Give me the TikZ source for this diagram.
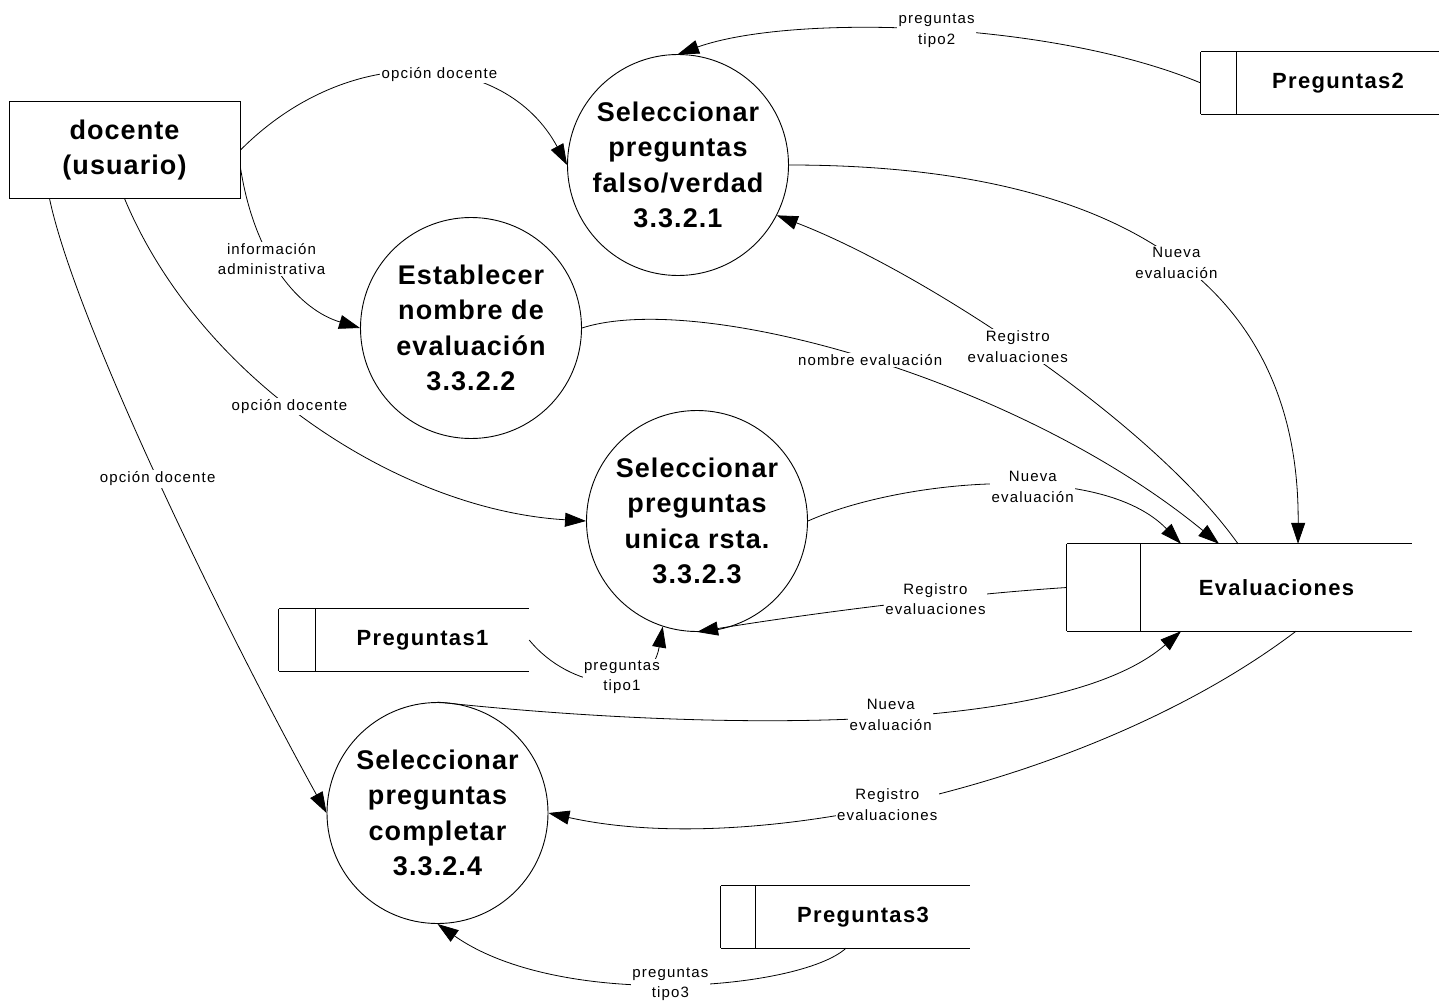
\documentclass[tikz,border=0pt]{standalone}
\usepackage{fontspec}
\newfontfamily\dfdb[LetterSpace=4]{Liberation Sans}
\newfontfamily\dfds[LetterSpace=6]{Liberation Sans}
\newfontfamily\dfdl[LetterSpace=7.7]{Liberation Sans}
\usetikzlibrary{arrows.meta}
\begin{document}
\begin{tikzpicture}[x=1pt,y=-1pt,
  proc/.style={circle,draw,line width=0.9pt,minimum size=221pt,inner sep=0pt,align=center,
    font=\dfdb\bfseries\fontsize{27}{35.5}\selectfont},
  entity/.style={rectangle,draw,line width=1pt,minimum width=231pt,minimum height=96pt,
    inner sep=0pt,align=center,font=\dfdb\bfseries\fontsize{27}{35}\selectfont},
  storetext/.style={inner sep=0pt,font=\dfds\bfseries\fontsize{22}{27}\selectfont},
  storeline/.style={line width=0.9pt},
  flow/.style={line width=0.8pt,-{Triangle[length=21pt,width=14pt]}},
  lbl/.style={fill=white,inner sep=1.5pt,align=center,font=\dfdl\fontsize{15}{20.5}\selectfont}
]
\fill[white] (0,0) rectangle (1439,1006);
\path[use as bounding box] (0,0) rectangle (1439,1006);

% external entity
\node[entity] (doc) at (124.5,150) {docente\\(usuario)};

% processes
\node[proc] (c1) at (678,165) {Seleccionar\\preguntas\\falso/verdad\\3.3.2.1};
\node[proc] (c2) at (471,328) {Establecer\\nombre de\\evaluación\\3.3.2.2};
\node[proc] (c3) at (697,521) {Seleccionar\\preguntas\\unica rsta.\\3.3.2.3};
\node[proc] (c4) at (437.5,813) {Seleccionar\\preguntas\\completar\\3.3.2.4};

% data stores: text area right of the divider, outline drawn from its anchors
\node[storetext,minimum width=202pt,minimum height=62pt] (p2) at (1338,83) {Preguntas2};
\node[storetext,minimum width=271pt,minimum height=87pt] (ev) at (1276.5,587.5) {Evaluaciones};
\node[storetext,minimum width=213pt,minimum height=62pt] (p1) at (422.5,640) {Preguntas1};
\node[storetext,minimum width=214pt,minimum height=62pt] (p3) at (863,917) {Preguntas3};

\foreach \s/\w in {p2/36,ev/74,p1/37,p3/35}{
  \draw[storeline] ([xshift=-\w pt]\s.north west) -- (\s.north east);
  \draw[storeline] ([xshift=-\w pt]\s.south west) -- (\s.south east);
  \draw[storeline] ([xshift=-\w pt]\s.north west) -- ([xshift=-\w pt]\s.south west);
  \draw[storeline] (\s.north west) -- (\s.south west);
}

% flows from the teacher
\draw[flow] (doc.east) .. controls (350,40) and (505,50) .. (c1.180)
  node[lbl,pos=0.55] {opción docente};
\draw[flow] ([yshift=-18pt]doc.east) .. controls (255,260) and (300,310) .. (c2.180)
  node[lbl,pos=0.4] {información\\administrativa};
\draw[flow] (doc.south) .. controls (200,380) and (400,510) .. (c3.180)
  node[lbl,pos=0.45] {opción docente};
\draw[flow] ([xshift=-75pt]doc.south) .. controls (75,320) and (220,620) .. (c4.180)
  node[lbl,pos=0.5] {opción docente};

% question banks
\draw[flow] ([xshift=-36pt]p2.west) .. controls (1050,20) and (790,14) .. (c1.90)
  node[lbl,pos=0.48] {preguntas\\tipo2};
\draw[flow] (p1.east) .. controls (570,690) and (650,700) .. (c3.-108)
  node[lbl,pos=0.6] {preguntas\\tipo1};
\draw[flow] ([xshift=-17pt]p3.south) .. controls (800,990) and (560,1010) .. (c4.-90)
  node[lbl,pos=0.5] {preguntas\\tipo3};

% exchanges with Evaluaciones
\draw[flow] (c1.0) .. controls (1100,165) and (1300,270) .. ([xshift=21.5pt]ev.north)
  node[lbl,pos=0.53] {Nueva\\evaluación};
\draw[flow] ([xshift=-38.5pt]ev.north) .. controls (1150,420) and (920,270) .. (c1.-27)
  node[lbl,pos=0.52] {Registro\\evaluaciones};
\draw[flow] (c2.0) .. controls (700,290) and (1020,380) .. ([xshift=-57.5pt]ev.north)
  node[lbl,pos=0.5] {nombre evaluación};
\draw[flow] (c3.0) .. controls (900,480) and (1100,460) .. ([xshift=-95.5pt]ev.north)
  node[lbl,pos=0.58] {Nueva\\evaluación};
\draw[flow] ([xshift=-74pt]ev.west) .. controls (950,595) and (800,615) .. (c3.-90)
  node[lbl,pos=0.35] {Registro\\evaluaciones};
\draw[flow] (c4.90) .. controls (650,725) and (1050,745) .. ([xshift=-95.5pt]ev.south)
  node[lbl,pos=0.56] {Nueva\\evaluación};
\draw[flow] ([xshift=19.5pt]ev.south) .. controls (1100,780) and (760,860) .. (c4.0)
  node[lbl,pos=0.55] {Registro\\evaluaciones};
\end{tikzpicture}
\end{document}
